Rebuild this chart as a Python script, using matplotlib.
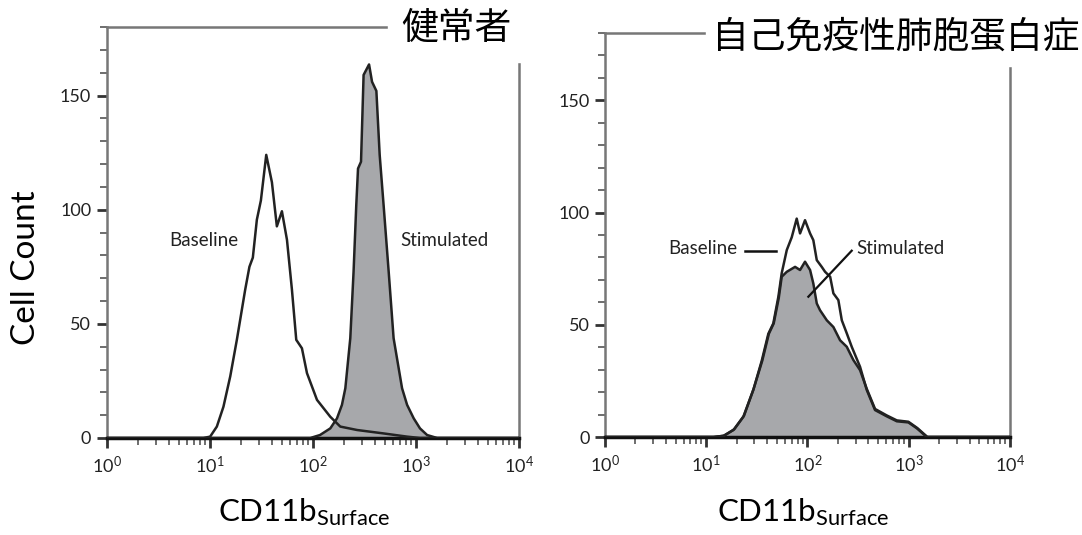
import numpy as np
import matplotlib
matplotlib.use('Agg')
import matplotlib.pyplot as plt
from matplotlib.patches import Rectangle
from matplotlib.ticker import MultipleLocator, LogLocator, NullFormatter

plt.rcParams['font.family'] = ['Lato', 'Noto Sans CJK JP', 'DejaVu Sans']
plt.rcParams['mathtext.fontset'] = 'custom'
plt.rcParams['mathtext.rm'] = 'Lato'

# Healthy donor panel (x values as log10 of CD11b intensity)
left_base_log = [0, 0.94, 1.005, 1.07, 1.134, 1.2, 1.264, 1.345, 1.386, 1.419, 1.458,
                 1.497, 1.549, 1.604, 1.652, 1.701, 1.750, 1.798, 1.840, 1.895, 1.944,
                 2.041, 2.170, 2.267, 2.43, 2.687, 2.915, 3.04, 4]
left_base_cnt = [0, 0, 0.6, 5, 13.7, 27, 43, 65, 75, 79, 95.6,
                 104, 124, 112, 92.7, 99.3, 86.8, 65, 43, 39.3, 28.4,
                 16.7, 9.3, 5, 3.5, 2, 0.6, 0, 0]
left_stim_log = [0, 1.976, 2.07, 2.17, 2.235, 2.283, 2.316, 2.364, 2.396, 2.422, 2.439,
                 2.468, 2.493, 2.546, 2.575, 2.617, 2.649, 2.687, 2.736, 2.784, 2.866,
                 2.915, 2.979, 3.04, 3.109, 3.206, 4]
left_stim_cnt = [0, 0, 1.3, 4.2, 8.6, 14.5, 21.8, 43.7, 73, 102, 118,
                 121, 159, 163.6, 156, 152, 124, 102, 73, 43.7, 21.8,
                 14.5, 8.6, 4.2, 1.3, 0, 0]

# Autoimmune PAP panel
right_base_log = [0, 1.072, 1.171, 1.270, 1.368, 1.467, 1.550, 1.615, 1.664, 1.714, 1.747,
                  1.797, 1.846, 1.895, 1.928, 1.977, 2.027, 2.059, 2.093, 2.142, 2.175,
                  2.225, 2.257, 2.306, 2.340, 2.389, 2.438, 2.520, 2.586, 2.668, 2.784,
                  2.883, 2.997, 3.080, 3.179, 4]
right_base_cnt = [0, 0, 0.5, 3.1, 9, 21, 34, 46, 50.6, 62.5, 73,
                  83.3, 89, 97.3, 90.7, 96.6, 90.7, 87.7, 78.8, 75.8, 73.6,
                  71.4, 64, 61, 52, 46.2, 40.2, 31.3, 21, 12, 9.2,
                  7, 6.5, 3.9, 0, 0]
right_stim_log = [0, 1.08, 1.18, 1.28, 1.375, 1.47, 1.555, 1.62, 1.668, 1.718, 1.747,
                  1.797, 1.879, 1.928, 1.977, 2.027, 2.059, 2.093, 2.125, 2.192, 2.257,
                  2.323, 2.389, 2.454, 2.520, 2.586, 2.668, 2.784, 2.883, 2.997, 3.085,
                  3.185, 4]
right_stim_cnt = [0, 0, 0.6, 3.5, 9.5, 21.5, 34, 46, 50.6, 62, 71.4,
                  73.6, 75.8, 74.4, 78.1, 74.4, 68.4, 59.5, 56.5, 52, 49,
                  43.1, 40.2, 34.3, 29.8, 21.5, 12.5, 9.6, 7.4, 6.8, 4,
                  0, 0]

titles = ['健常者', '自己免疫性肺胞蛋白症']
decades = [0, 1, 2, 3, 4]

W, H = 1082, 535
fig = plt.figure(figsize=(W / 100, H / 100), dpi=100)
ax1 = fig.add_axes([106.5 / W, 1 - 438 / H, (519 - 106.5) / W, (438 - 27) / H])
ax2 = fig.add_axes([604.7 / W, 1 - 437 / H, (1010 - 604.7) / W, (437 - 33) / H])

fill_col = '#a7a8ab'
line_col = '#222222'


def draw_panel(ax, base_log, base_cnt, stim_log, stim_cnt):
    bx = np.power(10.0, base_log)
    sx = np.power(10.0, stim_log)
    ax.fill_between(bx, base_cnt, color='white', zorder=1)
    ax.fill_between(sx, stim_cnt, color=fill_col, lw=0, zorder=2)
    ax.plot(bx, base_cnt, color=line_col, lw=1.8, zorder=3, solid_joinstyle='round')
    ax.plot(sx, stim_cnt, color=line_col, lw=1.8, zorder=3, solid_joinstyle='round')

    ax.set_xscale('log')
    ax.set_xlim(1, 1e4)
    ax.set_ylim(0, 180)
    ax.set_xticks([10.0 ** d for d in decades])
    ax.set_xticklabels([r'$\mathregular{10^{%d}}$' % d for d in decades])
    ax.xaxis.set_minor_locator(LogLocator(base=10, subs=np.arange(2, 10)))
    ax.xaxis.set_minor_formatter(NullFormatter())
    ax.set_yticks([0, 50, 100, 150])
    ax.yaxis.set_minor_locator(MultipleLocator(10))

    ax.tick_params(which='major', direction='out', length=7, width=2,
                   color='#333333', labelsize=13, labelcolor='#222222', pad=4)
    ax.tick_params(which='minor', direction='out', length=5, width=1.2,
                   color='#555555')
    ax.tick_params(axis='x', which='major', pad=5)

    for side in ['left', 'top', 'right']:
        ax.spines[side].set_color('#777777')
        ax.spines[side].set_linewidth(1.8)
    ax.spines['bottom'].set_color('#111111')
    ax.spines['bottom'].set_linewidth(2.5)


draw_panel(ax1, left_base_log, left_base_cnt, left_stim_log, left_stim_cnt)
draw_panel(ax2, right_base_log, right_base_cnt, right_stim_log, right_stim_cnt)

# labels inside panels
ax1.text(8.85, 86.4, 'Baseline', ha='center', va='center', fontsize=13.5, color='#222222')
ax1.text(1892, 86.4, 'Stimulated', ha='center', va='center', fontsize=13.5, color='#222222')
ax2.text(20.2, 84, 'Baseline', ha='right', va='center', fontsize=13.5, color='#222222')
ax2.plot([24.3, 49.1], [83, 83], color='#111111', lw=1.8, zorder=4)
ax2.text(303, 84, 'Stimulated', ha='left', va='center', fontsize=13.5, color='#222222')
ax2.plot([102.3, 274], [62.5, 83], color='#111111', lw=1.6, zorder=4)

# white boxes behind the titles, hiding part of the frame
fig.add_artist(Rectangle((388 / W, 1 - 62 / H), (540 - 388) / W, 62 / H,
                         transform=fig.transFigure, color='white', zorder=10))
fig.add_artist(Rectangle((706 / W, 1 - 66 / H), (1082 - 706) / W, 66 / H,
                         transform=fig.transFigure, color='white', zorder=10))
fig.text(456.5 / W, 1 - 29 / H, titles[0], ha='center', va='center', fontsize=26.5,
         family=['Noto Sans CJK JP'], zorder=11)
fig.text(896 / W, 1 - 37 / H, titles[1], ha='center', va='center', fontsize=26.5,
         family=['Noto Sans CJK JP'], zorder=11)

fig.text(26 / W, 1 - 268 / H, 'Cell Count', rotation=90, ha='center', va='center',
         fontsize=24)
xlab = r'$\mathregular{CD11b_{Surface}}$'
fig.text(304 / W, 1 - 521 / H, xlab, ha='center', va='baseline', fontsize=22.5)
fig.text(803 / W, 1 - 521 / H, xlab, ha='center', va='baseline', fontsize=22.5)

fig.savefig('out.png', dpi=100)
